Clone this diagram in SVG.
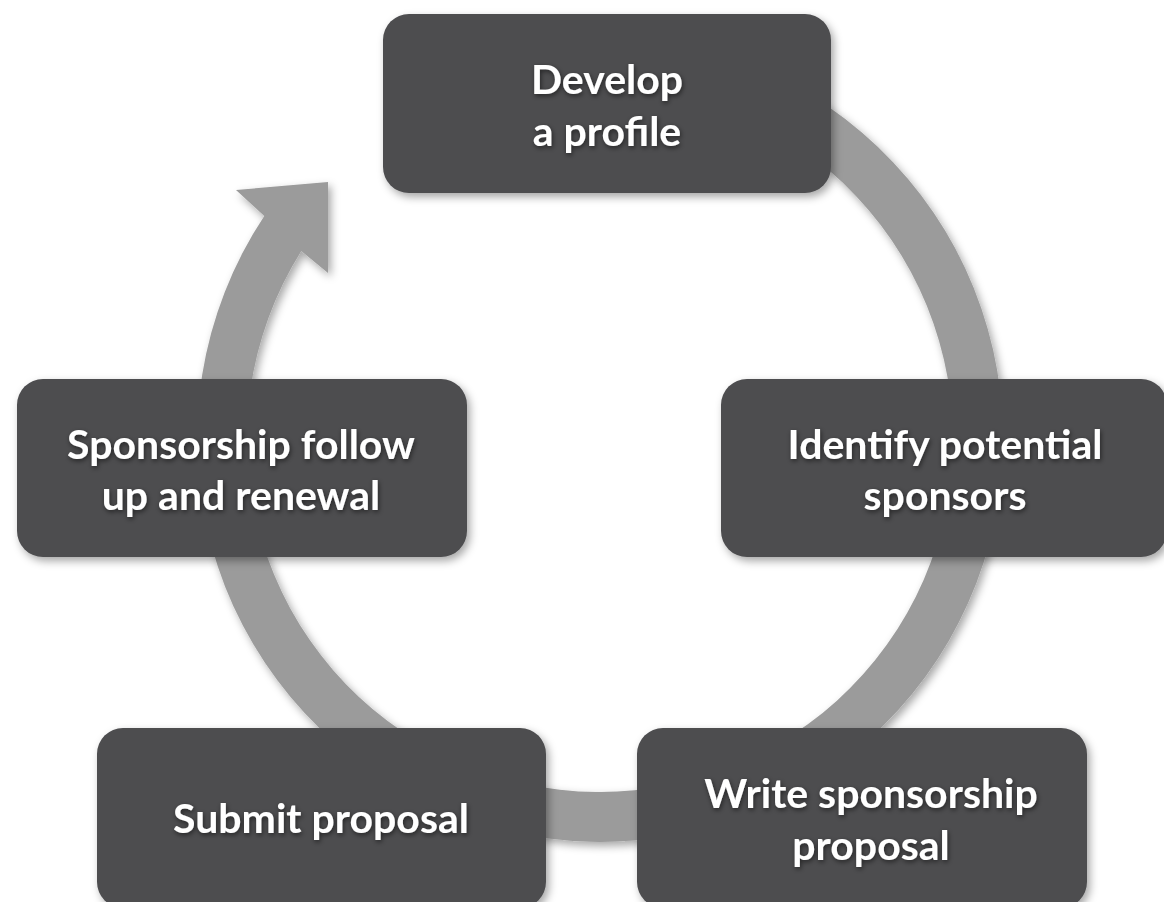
<svg xmlns="http://www.w3.org/2000/svg" width="1164" height="902" viewBox="0 0 1164 902">
  <defs>
    <filter id="soft-shadow" x="-20%" y="-20%" width="140%" height="140%">
      <feDropShadow dx="3" dy="4" stdDeviation="4" flood-color="#000" flood-opacity="0.35"/>
    </filter>
    <filter id="text-shadow" x="-10%" y="-30%" width="120%" height="160%">
      <feDropShadow dx="1" dy="2" stdDeviation="2.5" flood-color="#000" flood-opacity="0.55"/>
    </filter>
    <style>
      .box { fill: #4d4d4f; }
      .label { font-family: Lato, "Liberation Sans", sans-serif; font-weight: 700; font-size: 41px; fill: #ffffff; text-anchor: middle; }
      .ring { fill: #9b9b9b; }
    </style>
  </defs>

  <rect width="1164" height="902" fill="#ffffff"/>

  <!-- circular arrow running clockwise behind the steps -->
  <g id="connectors" filter="url(#soft-shadow)">
    <path class="ring" d="M 670,42 A 403 403 0 1 1 264.3,216 L 236,190 L 328,182 L 328,273 L 301.3,250.9 A 353 353 0 1 0 661.3,91.4 Z"/>
  </g>

  <g id="develop-profile">
    <rect class="box" x="383" y="14" width="448" height="179" rx="26" filter="url(#soft-shadow)"/>
    <g filter="url(#text-shadow)">
      <text class="label" x="607" y="94">Develop</text>
      <text class="label" x="607" y="146">a profile</text>
    </g>
  </g>

  <g id="identify-sponsors">
    <rect class="box" x="721" y="379" width="446" height="178" rx="26" filter="url(#soft-shadow)"/>
    <g filter="url(#text-shadow)">
      <text class="label" x="945" y="459">Identify potential</text>
      <text class="label" x="945" y="510">sponsors</text>
    </g>
  </g>

  <g id="write-proposal">
    <rect class="box" x="637" y="728" width="450" height="180" rx="26" filter="url(#soft-shadow)"/>
    <g filter="url(#text-shadow)">
      <text class="label" x="871" y="808">Write sponsorship</text>
      <text class="label" x="871" y="860">proposal</text>
    </g>
  </g>

  <g id="submit-proposal">
    <rect class="box" x="97" y="728" width="449" height="180" rx="26" filter="url(#soft-shadow)"/>
    <g filter="url(#text-shadow)">
      <text class="label" x="321" y="833">Submit proposal</text>
    </g>
  </g>

  <g id="follow-up-renewal">
    <rect class="box" x="17" y="379" width="450" height="178" rx="26" filter="url(#soft-shadow)"/>
    <g filter="url(#text-shadow)">
      <text class="label" x="241" y="459">Sponsorship follow</text>
      <text class="label" x="241" y="510">up and renewal</text>
    </g>
  </g>
</svg>
